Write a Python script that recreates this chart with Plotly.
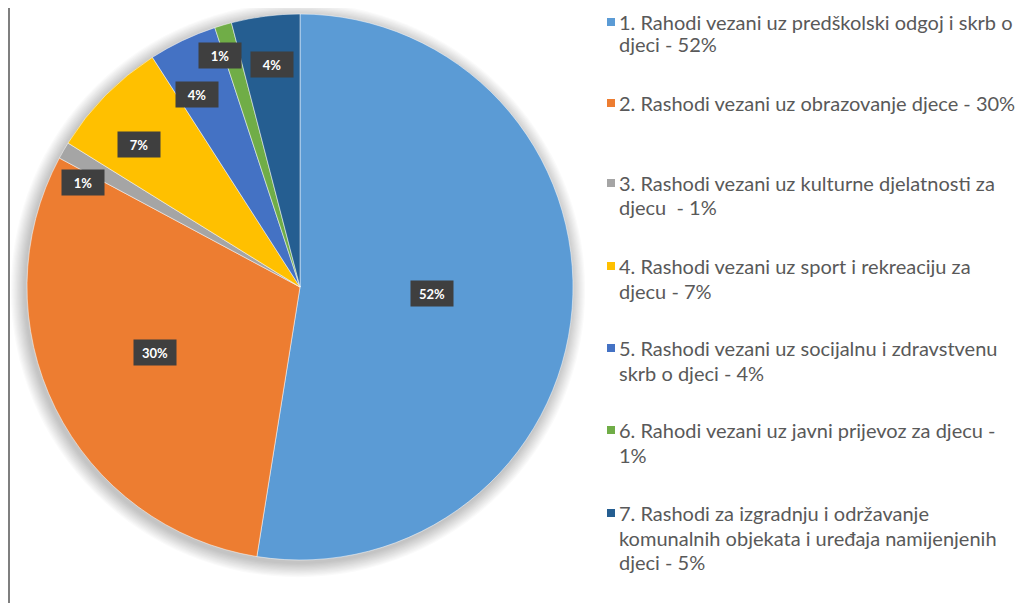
import math
import plotly.graph_objects as go

# ---- data ----
labels = [
    "1. Rahodi vezani uz predškolski odgoj i skrb o djeci - 52%",
    "2. Rashodi vezani uz obrazovanje djece - 30%",
    "3. Rashodi vezani uz kulturne djelatnosti za djecu  - 1%",
    "4. Rashodi vezani uz sport i rekreaciju za djecu - 7%",
    "5. Rashodi vezani uz socijalnu i zdravstvenu skrb o djeci - 4%",
    "6. Rahodi vezani uz javni prijevoz za djecu - 1%",
    "7. Rashodi za izgradnju i održavanje komunalnih objekata i uređaja namijenjenih djeci - 5%",
]
legend_lines = [
    ["1. Rahodi vezani uz predškolski odgoj i skrb o", "djeci - 52%"],
    ["2. Rashodi vezani uz obrazovanje djece - 30%"],
    ["3. Rashodi vezani uz kulturne djelatnosti za", "djecu  - 1%"],
    ["4. Rashodi vezani uz sport i rekreaciju za", "djecu - 7%"],
    ["5. Rashodi vezani uz socijalnu i zdravstvenu", "skrb o djeci - 4%"],
    ["6. Rahodi vezani uz javni prijevoz za djecu -", "1%"],
    ["7. Rashodi za izgradnju i održavanje", "komunalnih objekata i uređaja namijenjenih", "djeci - 5%"],
]
values = [52, 30, 1, 7, 4, 1, 4]
data_label_text = ["52%", "30%", "1%", "7%", "4%", "1%", "4%"]

# ---- style ----
colors = ["#5B9BD5", "#ED7D31", "#A5A5A5", "#FFC000", "#4472C4", "#70AD47", "#255E91"]
label_radius = [0.484, 0.582, 0.883, 0.786, 0.798, 0.898, 0.823]
label_angle_offset = [-1.9, 2.2, -4.2, -3.0, -2.7, -2.6, 0.0]  # degrees

# page body has an 8px margin: work in screen pixels and convert
OFF = 8
W, H = 1024 - OFF, 603 - OFF
CX, CY, R = 300, 287, 273


def px2x(sx):
    return (sx - OFF) / W


def px2y(sy):
    return 1 - (sy - OFF) / H


fig = go.Figure()
fig.add_trace(go.Pie(
    labels=labels,
    values=values,
    sort=False,
    direction="clockwise",
    rotation=0,
    marker=dict(colors=colors, line=dict(color="white", width=0.5)),
    textinfo="none",
    hoverinfo="label+value",
    showlegend=False,
    domain=dict(x=[px2x(CX - R), px2x(CX + R)], y=[px2y(CY + R), px2y(CY - R)]),
))

annotations = []
total = sum(values)
cum = 0
for v, t, rf, ao in zip(values, data_label_text, label_radius, label_angle_offset):
    mid = (cum + v / 2) / total * 2 * math.pi + math.radians(ao)
    cum += v
    sx = CX + rf * R * math.sin(mid)
    sy = CY - rf * R * math.cos(mid)
    annotations.append(dict(
        x=px2x(sx), y=px2y(sy), xref="paper", yref="paper",
        xanchor="center", yanchor="middle",
        text="<b>" + t + "</b>", showarrow=False,
        font=dict(family="Lato", size=13, color="white"),
        bgcolor="#3F3F3F", borderpad=4, width=34, height=17,
    ))

shapes = []
# soft shadow behind pie
for i in range(12):
    rr = R + 1 + i * 1.2
    ox, oy = -2, 3
    shapes.append(dict(
        type="circle", xref="paper", yref="paper", layer="below",
        x0=px2x(CX + ox - rr), x1=px2x(CX + ox + rr),
        y0=px2y(CY + oy + rr), y1=px2y(CY + oy - rr),
        fillcolor="rgba(0,0,0,0.02)", line=dict(width=0),
    ))

# manual legend
leg_x = 607
leg_top = [22, 103, 183, 266, 348, 430, 513]
line_h = [22, 24.5, 24.5, 24.5, 24.5, 24.5, 24.5]
for lines, col, yt, lh in zip(legend_lines, colors, leg_top, line_h):
    shapes.append(dict(
        type="rect", xref="paper", yref="paper",
        x0=px2x(leg_x), x1=px2x(leg_x + 8),
        y0=px2y(yt + 4), y1=px2y(yt - 4),
        fillcolor=col, line=dict(width=0),
    ))
    for k, ln in enumerate(lines):
        annotations.append(dict(
            x=px2x(leg_x + 10), y=px2y(yt + k * lh), xref="paper", yref="paper",
            xanchor="left", yanchor="middle", align="left",
            text=ln, showarrow=False,
            font=dict(family="Lato", size=20, color="#595959"),
        ))

# left frame line
shapes.append(dict(
    type="line", xref="paper", yref="paper",
    x0=px2x(9), x1=px2x(9), y0=0, y1=1,
    line=dict(color="#7F7F7F", width=2),
))

fig.update_layout(
    width=W, height=H,
    margin=dict(l=0, r=0, t=0, b=0),
    paper_bgcolor="white", plot_bgcolor="white",
    annotations=annotations, shapes=shapes,
)

fig.write_html("out.html")
